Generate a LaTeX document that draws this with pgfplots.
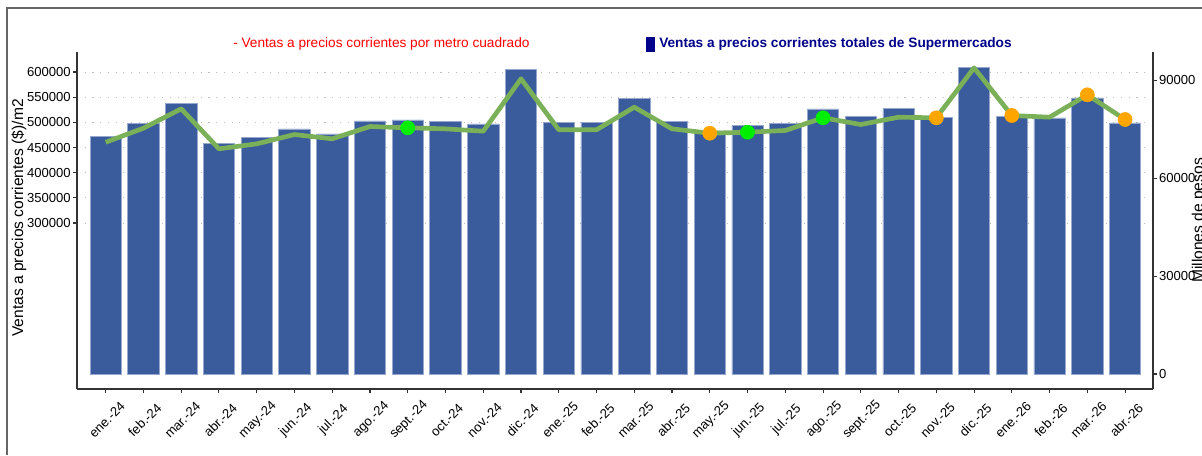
\documentclass[border=0pt]{standalone}
\usepackage{fontspec}
\setmainfont{Liberation Sans}
\usepackage{pgfplots}
\usepackage{pgfplotstable}
\pgfplotsset{compat=1.18}

\definecolor{barblue}{RGB}{58,92,156}
\definecolor{baredge}{RGB}{150,168,205}
\definecolor{linegreen}{RGB}{122,176,88}
\definecolor{mkgreen}{RGB}{0,238,0}
\definecolor{mkorange}{RGB}{255,165,0}
\definecolor{navyblue}{RGB}{0,0,139}
\definecolor{axgray}{RGB}{51,51,51}
\definecolor{gridgray}{RGB}{190,190,190}

% Bars: Millones de pesos (right axis)
\pgfplotstableread{
x y
0 72830
1 76810
2 82940
3 70570
4 72520
5 75070
6 73540
7 77520
8 77830
9 77420
10 76600
11 93350
12 77010
13 77010
14 84360
15 77310
16 74460
17 76190
18 76810
19 81200
20 79050
21 81500
22 78640
23 93960
24 79050
25 78440
26 84570
27 76910
}\bars

% Line: Ventas a precios corrientes por m2 (left axis)
\pgfplotstableread{
x y
0 460500
1 488400
2 526900
3 447400
4 457300
5 475800
6 467300
7 491700
8 489100
9 487100
10 482400
11 586500
12 485200
13 485200
14 530100
15 487100
16 478400
17 480400
18 483800
19 509000
20 495700
21 510200
22 509000
23 608300
24 513600
25 510200
26 554700
27 505600
}\linedata

\pgfplotsset{
  base/.style={
    at={(57.75pt,49.5pt)}, anchor=south west,
    scale only axis, width=807pt, height=252.75pt,
    xmin=-0.76, xmax=27.74,
    axis line style={axgray, line width=0.8pt},
    tick style={axgray, line width=0.8pt},
    tick align=outside, major tick length=3pt,
    tick label style={font=\fontsize{9.8}{11}\selectfont, text=black},
    /pgf/number format/fixed,
    /pgf/number format/precision=0,
    /pgf/number format/assume math mode=true,
    /pgf/number format/set thousands separator={},
    scaled y ticks=false,
  },
}

\begin{document}
\begin{tikzpicture}
\useasboundingbox (0,0) rectangle (901.5pt,341.25pt);
\fill[white] (0,0) rectangle (901.5pt,341.25pt);
\draw[gray!80!black, line width=0.9pt] (5.25pt,0pt) -- (5.25pt,335.25pt) -- (901.5pt,335.25pt);

% Left axis with grid
\begin{axis}[base,
  ymin=-29800, ymax=639750,
  axis y line*=left, axis x line*=bottom,
  ytick={300000,350000,400000,450000,500000,550000,600000},
  yticklabel style={xshift=1.8pt},
  ymajorgrids,
  grid style={gridgray, line width=0.7pt, dash pattern=on 0.8pt off 5pt},
  xtick={0,...,27},
  xticklabels={ene.-24,feb.-24,mar.-24,abr.-24,may.-24,jun.-24,jul.-24,ago.-24,sept.-24,oct.-24,nov.-24,dic.-24,ene.-25,feb.-25,mar.-25,abr.-25,may.-25,jun.-25,jul.-25,ago.-25,sept.-25,oct.-25,nov.-25,dic.-25,ene.-26,feb.-26,mar.-26,abr.-26},
  xticklabel style={anchor=center, yshift=-20.25pt, xshift=1pt, rotate=45},
]
\addplot[draw=none] coordinates {(0,0)};
\end{axis}

% Right axis with bars
\begin{axis}[base,
  ymin=-4596, ymax=98660,
  axis y line*=right, axis x line=none,
  ytick={0,30000,60000,90000},
  yticklabel style={anchor=west, xshift=-2pt},
]
\addplot[ybar, bar width=0.83, fill=barblue, draw=baredge, line width=0.5pt] table[x=x,y=y] {\bars};
\end{axis}

% Line on left scale
\begin{axis}[base,
  ymin=-29800, ymax=639750,
  hide axis,
]
\addplot[linegreen, line width=3.5pt, line join=round] table[x=x,y=y] {\linedata};
\addplot[only marks, mark=*, mark size=5.3pt, mkgreen, mark options={draw=mkgreen, fill=mkgreen}] coordinates {(8,489100) (17,480400) (19,509000)};
\addplot[only marks, mark=*, mark size=5.3pt, mkorange, mark options={draw=mkorange, fill=mkorange}] coordinates {(16,478400) (22,509000) (24,513600) (26,554700) (27,505600)};
\end{axis}

% Axis titles
\node[rotate=90, font=\fontsize{11.7}{13}\selectfont, inner sep=0pt] at (14.25pt,177.75pt) {Ventas a precios corrientes (\$)/m2};
\node[rotate=90, font=\fontsize{11.7}{13}\selectfont, inner sep=0pt] at (899.25pt,175.9pt) {Millones de pesos};

% Legend texts
\node[anchor=west, inner sep=0pt, text=red, font=\fontsize{10.25}{12}\selectfont] at (174.75pt,308.25pt) {- Ventas a precios corrientes por metro cuadrado};
\fill[navyblue] (484.5pt,302.25pt) rectangle (491.25pt,313.5pt);
\node[anchor=west, inner sep=0pt, text=navyblue, font=\fontsize{10.25}{12}\selectfont\bfseries] at (494.25pt,308.25pt) {Ventas a precios corrientes totales de Supermercados};
\end{tikzpicture}
\end{document}
